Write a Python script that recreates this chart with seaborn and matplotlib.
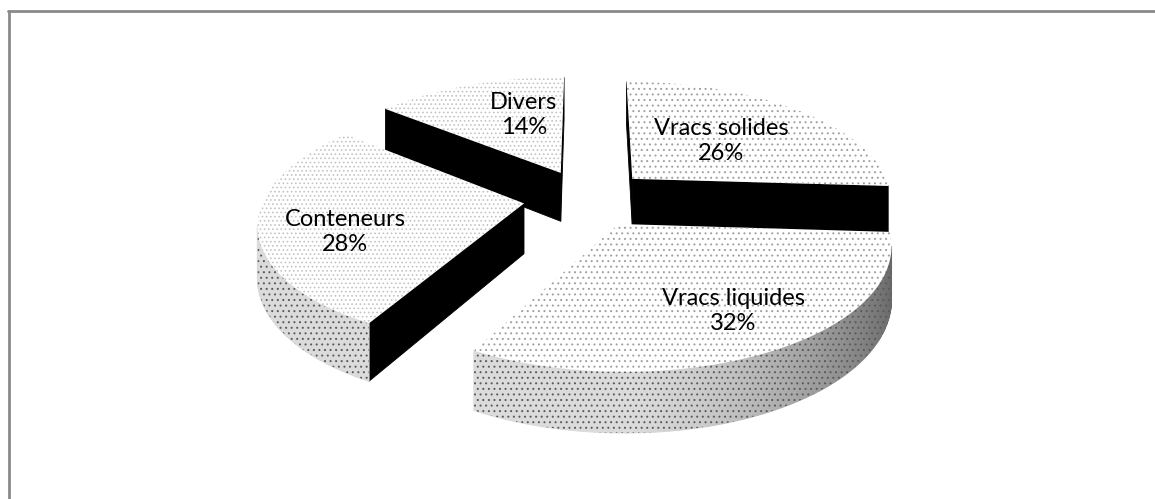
import numpy as np
import matplotlib
matplotlib.use("Agg")
import matplotlib.pyplot as plt
from matplotlib.patches import Polygon
from matplotlib.lines import Line2D
import seaborn as sns

# Répartition du trafic par type de marchandise (%)
categories = ["Vracs solides", "Vracs liquides", "Conteneurs", "Divers"]
shares = [26, 32, 28, 14]

sns.set_theme(style="white")
plt.rcParams["font.family"] = ["Lato", "DejaVu Sans"]
plt.rcParams["hatch.linewidth"] = 0.7

W, H = 1155, 499
fig = plt.figure(figsize=(W / 100, H / 100), dpi=100)
ax = fig.add_axes([0, 0, 1, 1])
ax.set_xlim(0, W)
ax.set_ylim(H, 0)
ax.axis("off")

# 3D pie projection (pixel space, y downwards)
CX, CY = 587.0, 198.0
RX, RY = 260.0, 117.0
PERSP = 0.15
THICK = 50.0
EXPLODE = 0.245


def project(px, pz, drop=0.0):
    s = 1.0 / (1.0 + PERSP * pz)
    return CX + RX * px * s, CY - RY * pz * s + drop * s


def shoelace(pts):
    pts = np.asarray(pts)
    x, y = pts[:, 0], pts[:, 1]
    return 0.5 * np.sum(x * np.roll(y, -1) - np.roll(x, -1) * y)


def wall_shade(theta):
    c = max(0.0, np.cos(theta))
    return 0.86 - 0.46 * c ** 1.4


top_styles = {
    "Vracs solides": ("...", "#a0a0a0"),
    "Vracs liquides": ("...", "#a0a0a0"),
    "Conteneurs": ("....", "#c4c4c4"),
    "Divers": ("....", "#c4c4c4"),
}

# slice angles: clockwise from 12 o'clock
total = float(sum(shares))
slices = []
cum = 0.0
for cat, v in zip(categories, shares):
    b = np.pi / 2 - 2 * np.pi * cum / total
    a = b - 2 * np.pi * v / total
    cum += v
    m = 0.5 * (a + b)
    ox, oz = EXPLODE * np.cos(m), EXPLODE * np.sin(m)
    slices.append(dict(cat=cat, a=a, b=b, ox=ox, oz=oz))

# paint from back to front
order = sorted(range(len(slices)), key=lambda i: -slices[i]["oz"])
z = 1
for i in order:
    sl = slices[i]
    a, b, ox, oz = sl["a"], sl["b"], sl["ox"], sl["oz"]
    th = np.linspace(a, b, 160)
    top_arc = [project(ox + np.cos(t), oz + np.sin(t)) for t in th]
    bot_arc = [project(ox + np.cos(t), oz + np.sin(t), THICK) for t in th]
    apex_t = project(ox, oz)
    apex_b = project(ox, oz, THICK)

    # radial cut faces
    face_a = [apex_t, top_arc[0], bot_arc[0], apex_b]
    face_b = [apex_t, top_arc[-1], bot_arc[-1], apex_b]
    if shoelace(face_a) > 0:
        ax.add_patch(Polygon(face_a, closed=True, facecolor="black",
                             edgecolor="black", lw=0.6, zorder=z))
    if shoelace(face_b) < 0:
        ax.add_patch(Polygon(face_b, closed=True, facecolor="black",
                             edgecolor="black", lw=0.6, zorder=z))

    # outer curved wall
    vis = []
    for k in range(len(th) - 1):
        quad = [top_arc[k], top_arc[k + 1], bot_arc[k + 1], bot_arc[k]]
        if shoelace(quad) > 0:
            g = wall_shade(0.5 * (th[k] + th[k + 1]))
            ax.add_patch(Polygon(quad, closed=True, facecolor=(g, g, g),
                                 edgecolor=(g, g, g), lw=0.8, zorder=z))
            vis.append(k)
    if vis:
        k0, k1 = vis[0], vis[-1] + 1
        outline = top_arc[k0:k1 + 1] + bot_arc[k0:k1 + 1][::-1]
        ax.add_patch(Polygon(outline, closed=True, facecolor="none",
                             edgecolor="#5a5a5a", hatch="...", lw=0, zorder=z + 0.5))

    # top face
    hatch, hc = top_styles[sl["cat"]]
    top_poly = [apex_t] + top_arc
    ax.add_patch(Polygon(top_poly, closed=True, facecolor="white",
                         edgecolor="none", lw=0, zorder=z + 0.6))
    ax.add_patch(Polygon(top_poly, closed=True, facecolor="none",
                         edgecolor=hc, hatch=hatch, lw=0, zorder=z + 0.7))
    z += 1

# data labels
label_xy = [(721, 141), (733, 311), (345, 232), (524, 115)]
for cat, v, (lx, ly) in zip(categories, shares, label_xy):
    ax.text(lx, ly, f"{cat}\n{v}%", ha="center", va="center", fontsize=17,
            linespacing=1.25, color="black", zorder=50)

# chart area border (left and top edges)
border = "#8a8a8a"
ax.add_line(Line2D([9, 9], [11, H], color=border, lw=2.0, clip_on=False, zorder=60))
ax.add_line(Line2D([8, W], [11, 11], color=border, lw=2.0, clip_on=False, zorder=60))

fig.savefig("out.png", dpi=100)
